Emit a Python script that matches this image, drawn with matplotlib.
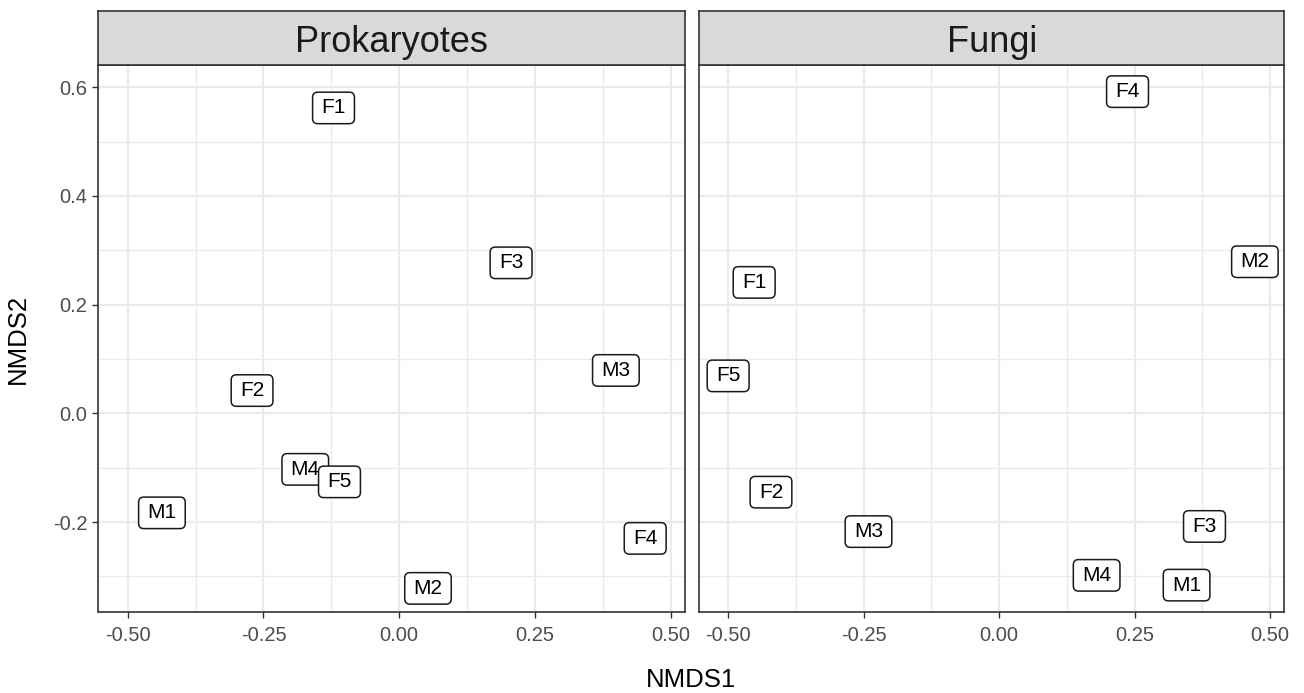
import matplotlib
matplotlib.use("Agg")
import matplotlib.pyplot as plt
from matplotlib.patches import BoxStyle
from matplotlib.ticker import MultipleLocator, FixedLocator

plt.rcParams['font.family'] = ['Liberation Sans', 'DejaVu Sans']

# ---- data ----
samples = ["M1", "M2", "M3", "M4", "F1", "F2", "F3", "F4", "F5"]
prok_x = [-0.437, 0.053, 0.399, -0.173, -0.121, -0.271, 0.206, 0.453, -0.110]
prok_y = [-0.183, -0.322, 0.079, -0.103, 0.562, 0.042, 0.277, -0.230, -0.126]
fungi_x = [0.346, 0.472, -0.241, 0.180, -0.452, -0.421, 0.379, 0.237, -0.500]
fungi_y = [-0.316, 0.279, -0.2175, -0.298, 0.241, -0.145, -0.208, 0.592, 0.069]
panels = ["Prokaryotes", "Fungi"]
x_ticks = [-0.50, -0.25, 0.00, 0.25, 0.50]
y_ticks = [-0.2, 0.0, 0.2, 0.4, 0.6]

W, H = 1304, 693
fig = plt.figure(figsize=(W / 100, H / 100), dpi=100)

_round = BoxStyle.Round(pad=0, rounding_size=0.25)


def label_box(x0, y0, width, height, mutation_size):
    padx = 0.42 * mutation_size
    pady = 0.30 * mutation_size
    return _round(x0 - padx, y0 - pady, width + 2 * padx, height + 2 * pady,
                  mutation_size)


def fx(px):
    return px / W


def fy(py):
    return 1 - py / H


panel_px = [(98.5, 685.0), (699.0, 1284.3)]
top_px, bot_px, strip_top_px = 65.0, 612.3, 10.7
xlim = (-0.5538, 0.5263)
ylim = (-0.366, 0.641)

data = [(prok_x, prok_y), (fungi_x, fungi_y)]
for i, (name, (xs, ys)) in enumerate(zip(panels, data)):
    l, r = panel_px[i]
    ax = fig.add_axes([fx(l), fy(bot_px), (r - l) / W, (bot_px - top_px) / H])
    ax.set_xlim(*xlim)
    ax.set_ylim(*ylim)
    ax.set_facecolor("white")
    ax.xaxis.set_major_locator(FixedLocator(x_ticks))
    ax.xaxis.set_minor_locator(MultipleLocator(0.125))
    ax.yaxis.set_major_locator(FixedLocator(y_ticks))
    ax.yaxis.set_minor_locator(MultipleLocator(0.1))
    ax.grid(which="major", color="#EBEBEB", linewidth=1.6, zorder=0)
    ax.grid(which="minor", color="#EBEBEB", linewidth=1.0, zorder=0)
    ax.set_axisbelow(True)
    ax.set_xticklabels([f"{v:.2f}" for v in x_ticks])
    ax.tick_params(axis="both", which="major", length=4.5, width=1.0,
                   color="#333333", labelcolor="#4D4D4D", labelsize=14.5, pad=3.5)
    ax.tick_params(axis="x", which="major", pad=5.5)
    ax.tick_params(axis="both", which="minor", length=0)
    if i == 0:
        ax.set_yticklabels([f"{v:.1f}" for v in y_ticks])
    else:
        ax.tick_params(axis="y", which="major", length=0, labelleft=False)
    for s in ax.spines.values():
        s.set_color("#333333")
        s.set_linewidth(1.2)
    for k, (lab, x, y) in enumerate(zip(samples, xs, ys)):
        ax.text(x, y, lab, ha="center", va="center", fontsize=15, color="black",
                zorder=5 + k * 0.01,
                bbox=dict(boxstyle=label_box, facecolor="white",
                          edgecolor="#1A1A1A", linewidth=1.1))
    # strip
    sax = fig.add_axes([fx(l), fy(top_px), (r - l) / W, (top_px - strip_top_px) / H])
    sax.set_facecolor("#D9D9D9")
    sax.set_xticks([])
    sax.set_yticks([])
    for s in sax.spines.values():
        s.set_color("#333333")
        s.set_linewidth(1.2)
    sax.text(0.5, (top_px - 51.7) / (top_px - strip_top_px), name, ha="center",
             va="baseline", fontsize=26, color="#1A1A1A", transform=sax.transAxes)

fig.text(fx(691.4), fy(680), "NMDS1", ha="center", va="center", fontsize=18.5,
         color="black")
fig.text(fx(18), fy((top_px + bot_px) / 2), "NMDS2", ha="center", va="center",
         rotation=90, fontsize=18.5, color="black")

fig.savefig("out.png", dpi=100, facecolor="white")
